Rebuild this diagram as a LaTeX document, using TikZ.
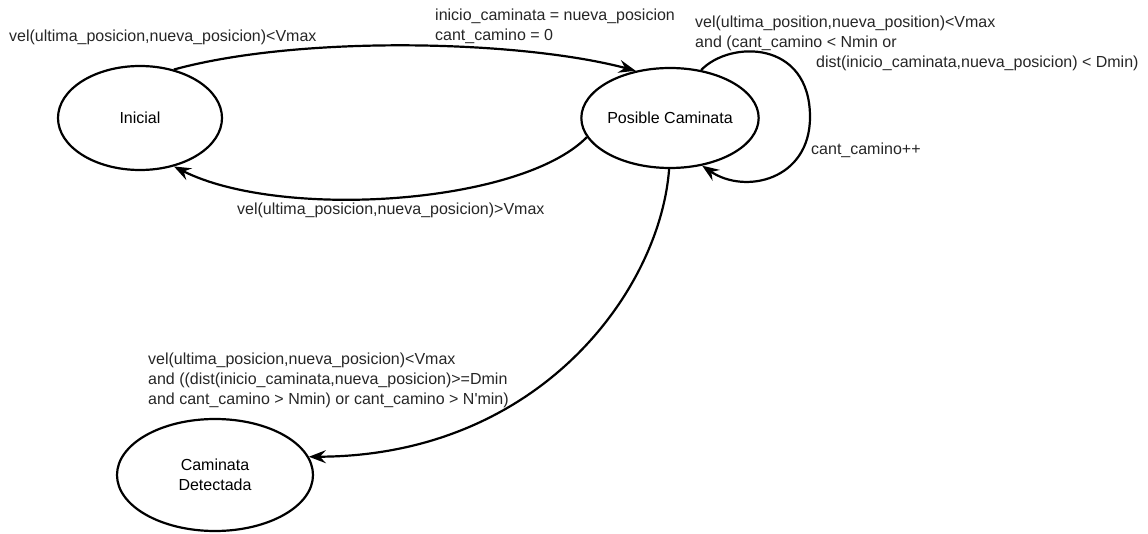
\documentclass[tikz,border=0pt]{standalone}
\usepackage{fontspec}
\setmainfont{Liberation Sans}
\usetikzlibrary{shapes.geometric,arrows.meta}
\begin{document}
\begin{tikzpicture}[x=1pt,y=-1pt,
  state/.style={ellipse,draw,line width=2.2pt,inner sep=0pt,
    font=\fontsize{16}{20}\selectfont,align=center},
  lbl/.style={inner sep=0pt,anchor=west,align=left,text=black!85,
    font=\fontsize{16}{20}\selectfont},
  tip/.tip={Stealth[length=17pt,width=13pt,inset=6pt]},
  trans/.style={line width=2.2pt,arrows={-tip}}]
\useasboundingbox (0,0) rectangle (1148,534);

% states
\node[state,minimum width=164pt,minimum height=104pt] (ini) at (140,118) {Inicial};
\node[state,minimum width=174pt,minimum height=100pt] (pos) at (670,118) {Posible Caminata};
\node[state,minimum width=196pt,minimum height=112pt] (det) at (215,475) {Caminata\\Detectada};

% transitions
\draw[trans] (ini.55) .. controls (300,35) and (520,40) .. (pos.126);
\draw[trans] (pos.193) .. controls (520,205) and (280,220) .. (ini.305);
\draw[trans] (pos.57) .. controls (730,40) and (810,40) .. (810,117)
                      .. controls (810,180) and (745,195) .. (pos.304);
\draw[trans] (pos.269) .. controls (660,290) and (540,456) .. (det.11);

% guards and actions
\node[lbl] (l1) at (9,37) {vel(ultima\_posicion,nueva\_posicion)<Vmax};
\node[lbl] (l2) at (435,26) {inicio\_caminata = nueva\_posicion\\cant\_camino = 0};
\node[lbl] (l3) at (237,210) {vel(ultima\_posicion,nueva\_posicion)>Vmax};
\node[lbl] (l4) at (695,33) {vel(ultima\_position,nueva\_position)<Vmax\\and (cant\_camino < Nmin or};
\node[lbl] (l5) at (816,63) {dist(inicio\_caminata,nueva\_posicion) < Dmin)};
\node[lbl] (l6) at (811,150) {cant\_camino++};
\node[lbl] (l7) at (148,380) {vel(ultima\_posicion,nueva\_posicion)<Vmax\\and ((dist(inicio\_caminata,nueva\_posicion)>=Dmin\\and cant\_camino > Nmin) or cant\_camino > N\textquotesingle min)};
\end{tikzpicture}
\end{document}
